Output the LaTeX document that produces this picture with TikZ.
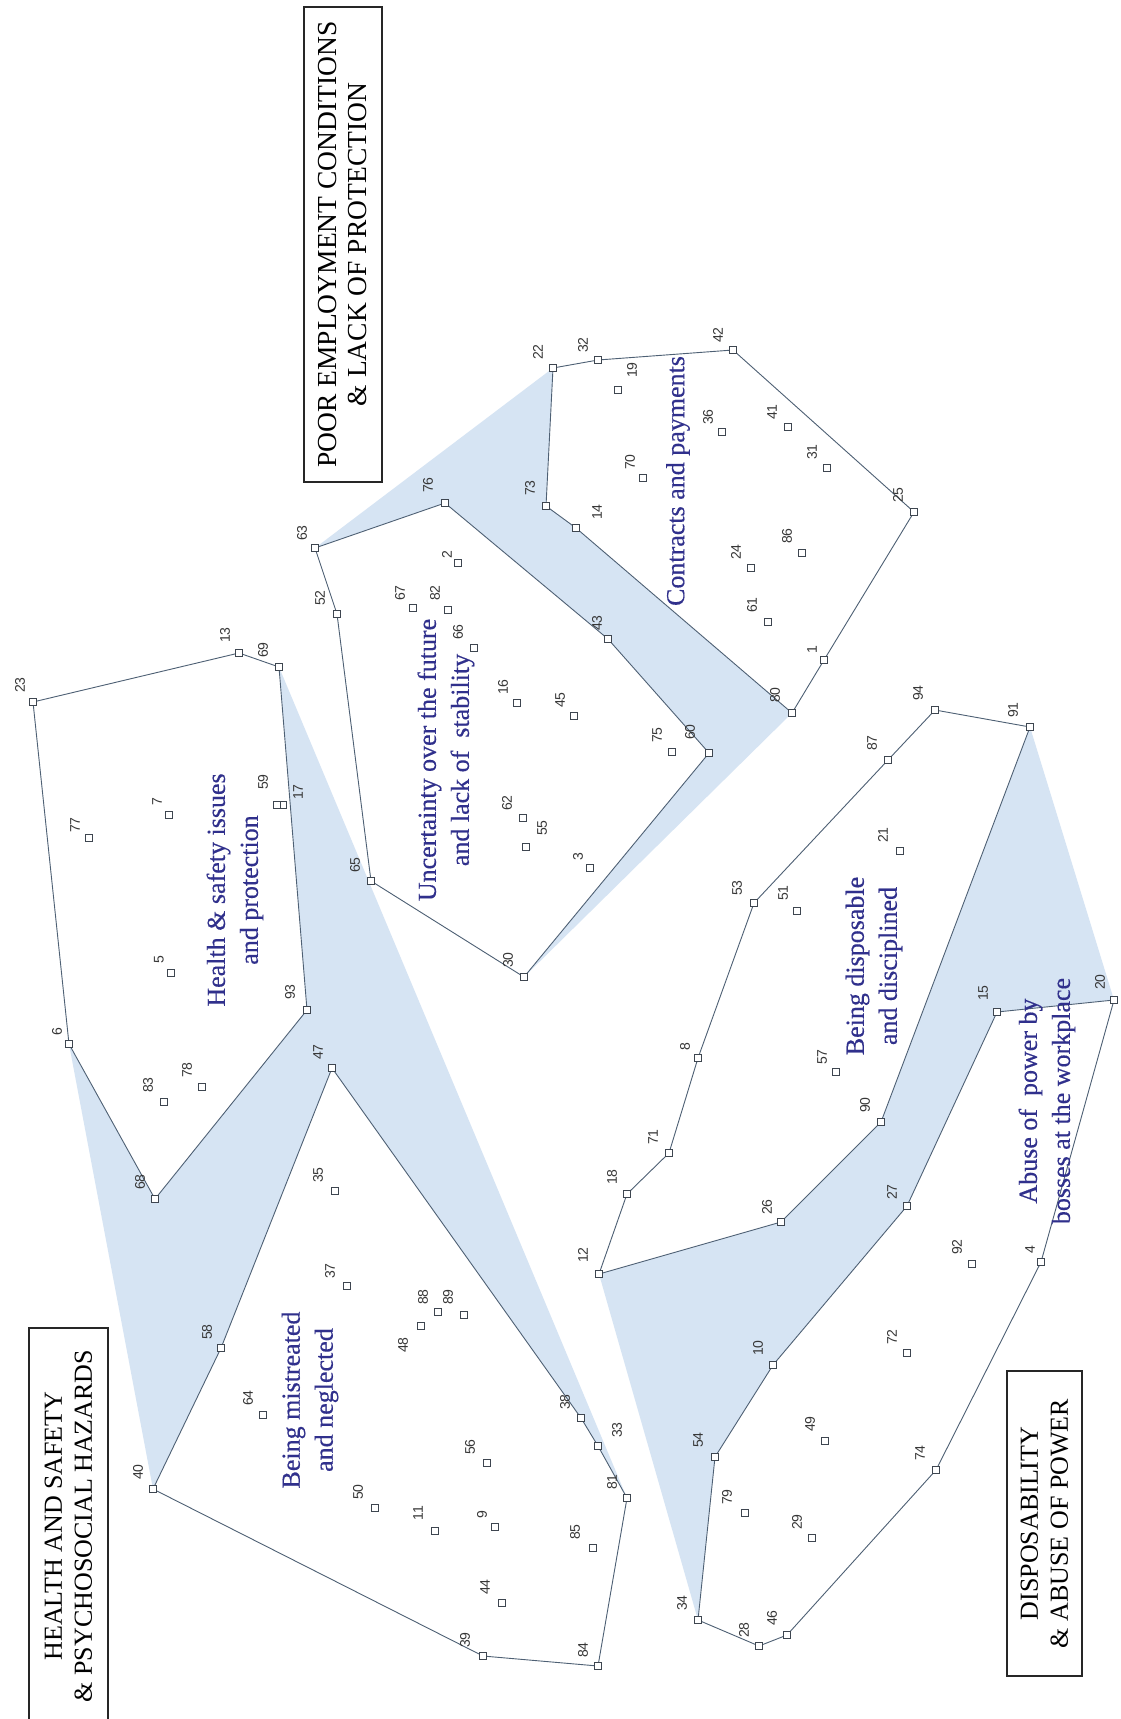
\documentclass[tikz,border=0pt]{standalone}
\usepackage{fontspec}
\setmainfont{Liberation Serif}
\newfontfamily\numfont{Liberation Sans}
\newfontfamily\catfont[FakeBold=0.4]{Liberation Serif}
\definecolor{hullblue}{RGB}{214,228,243}
\definecolor{edgecol}{RGB}{78,96,116}
\definecolor{markcol}{RGB}{62,70,80}
\definecolor{numcol}{RGB}{55,55,55}
\definecolor{catblue}{RGB}{48,48,140}
\begin{document}
\begin{tikzpicture}[x=1pt,y=-1pt,
  mk/.style={rectangle,draw=markcol,fill=white,line width=1pt,minimum size=7.5pt,inner sep=0pt,outer sep=0pt},
  num/.style={font=\numfont\fontsize{14}{14}\selectfont,text=numcol,rotate=90,inner sep=0pt},
  clusteredge/.style={draw=edgecol,line width=0.9pt,line join=round},
  cat/.style={font=\catfont\fontsize{26}{33}\selectfont,text=catblue,rotate=90,align=center,inner sep=0pt},
  titlebox/.style={draw=black!85,line width=1.2pt,rotate=90,align=center,inner sep=0pt,
    font=\fontsize{26}{30}\selectfont}]
% page
\useasboundingbox (0,0) rectangle (1120,1719);
\fill[white] (0,0) rectangle (1120,1719);

% statement points: number / x / y / label x / label y
\def\pts{1/824/660/812/650, 2/458/563/447/555, 3/590/868/578/857, 4/1041/1262/1030/1250,
 5/171/973/159/960, 6/69/1044/57/1032, 7/169/815/157/802, 8/698/1058/685/1047,
 9/495/1527/482/1515, 10/773/1365/758/1348, 11/435/1531/418/1513, 12/599/1274/583/1255,
 13/239/653/225/635, 14/576/528/597/512, 15/997/1012/983/993, 16/517/703/503/687,
 17/283/805/298/792, 18/627/1194/612/1177, 19/618/390/632/370, 20/1114/1000/1100/982,
 21/900/851/883/835, 22/553/368/538/352, 23/33/702/20/685, 24/751/568/736/552,
 25/914/512/898/495, 26/781/1222/767/1207, 27/907/1206/892/1192, 28/759/1646/744/1630,
 29/812/1538/797/1522, 30/524/977/508/960, 31/827/468/812/452, 32/598/360/583/345,
 33/598/1446/617/1430, 34/698/1620/682/1603, 35/335/1191/318/1175, 36/722/432/708/417,
 37/347/1286/330/1271, 38/581/1418/565/1402, 39/483/1656/465/1640, 40/153/1489/138/1472,
 41/788/427/772/412, 42/733/350/718/335, 43/608/639/597/623, 44/502/1603/485/1587,
 45/574/716/560/700, 46/787/1635/772/1618, 47/332/1068/318/1052, 48/421/1326/403/1345,
 49/825/1441/810/1424, 50/375/1508/358/1492, 51/797/911/783/893, 52/337/614/320/598,
 53/754/903/737/888, 54/715/1457/698/1440, 55/526/847/542/828, 56/487/1463/470/1447,
 57/836/1072/822/1057, 58/221/1348/207/1332, 59/277/805/263/782, 60/709/753/690/732,
 61/768/622/752/605, 62/523/818/507/803, 63/315/548/302/533, 64/263/1415/248/1398,
 65/371/881/355/865, 66/474/648/458/632, 67/413/608/400/593, 68/155/1199/140/1182,
 69/279/667/263/650, 70/643/478/630/462, 71/669/1153/653/1137, 72/907/1353/892/1337,
 73/546/506/530/488, 74/936/1470/920/1453, 75/672/752/657/735, 76/445/503/428/485,
 77/89/838/75/825, 78/202/1087/187/1070, 79/745/1513/727/1497, 80/792/713/775/695,
 81/627/1498/612/1482, 82/448/610/435/593, 83/164/1102/148/1085, 84/598/1666/583/1650,
 85/593/1548/575/1532, 86/802/553/787/536, 87/888/760/872/743, 88/438/1312/423/1297,
 89/464/1315/448/1297, 90/881/1122/865/1105, 91/1030/727/1013/710, 92/972/1264/957/1247,
 93/307/1010/290/992, 94/935/710/918/693}

\foreach \n/\x/\y/\lx/\ly in \pts {\coordinate (p\n) at (\x,\y);}

% shaded hulls of the three groups
\fill[hullblue] (p23) -- (p13) -- (p69) -- (p81) -- (p84) -- (p39) -- (p40) -- (p6) -- cycle;
\fill[hullblue] (p63) -- (p22) -- (p32) -- (p42) -- (p25) -- (p1) -- (p80) -- (p30) -- (p65) -- (p52) -- cycle;
\fill[hullblue] (p12) -- (p18) -- (p71) -- (p8) -- (p53) -- (p87) -- (p94) -- (p91) -- (p20) -- (p4)
  -- (p74) -- (p46) -- (p28) -- (p34) -- cycle;

% clusters
\filldraw[clusteredge,fill=white] (p23) -- (p13) -- (p69) -- (p93) -- (p68) -- (p6) -- cycle;
\filldraw[clusteredge,fill=white] (p47) -- (p38) -- (p33) -- (p81) -- (p84) -- (p39) -- (p40) -- (p58) -- cycle;
\filldraw[clusteredge,fill=white] (p63) -- (p76) -- (p43) -- (p60) -- (p30) -- (p65) -- (p52) -- cycle;
\filldraw[clusteredge,fill=white] (p22) -- (p32) -- (p42) -- (p25) -- (p1) -- (p80) -- (p14) -- (p73) -- cycle;
\filldraw[clusteredge,fill=white] (p12) -- (p18) -- (p71) -- (p8) -- (p53) -- (p87) -- (p94) -- (p91)
  -- (p90) -- (p26) -- cycle;
\filldraw[clusteredge,fill=white] (p15) -- (p20) -- (p4) -- (p74) -- (p46) -- (p28) -- (p34) -- (p54)
  -- (p10) -- (p27) -- cycle;

% markers and numbers
\foreach \n/\x/\y/\lx/\ly in \pts {
  \node[mk] (m\n) at (p\n) {};
  \node[num] (l\n) at (\lx,\ly) {\n};
}

% cluster names
\node[cat] (catA) at (235,890) {Health \& safety issues\\and protection};
\node[cat] (catB) at (310,1400) {Being mistreated\\and neglected};
\node[cat] (catC) at (446,760) {Uncertainty over the future\\and lack of\ \ stability};
\node[cat] (catD) at (678,481) {Contracts and payments};
\node[cat] (catE) at (874,966) {Being disposable\\and disciplined};
\node[cat] (catF) at (1047,1101) {Abuse of\ \ power by\\bosses at the workplace};

% group titles
\node[titlebox,minimum width=475pt,minimum height=78pt,font=\fontsize{27.5}{30}\selectfont] (tPO) at (343,244.5)
  {POOR EMPLOYMENT CONDITIONS\\\& LACK OF PROTECTION};
\node[titlebox,minimum width=396pt,minimum height=79pt] (tHS) at (68.5,1526)
  {HEALTH AND SAFETY\\\& PSYCHOSOCIAL HAZARDS};
\node[titlebox,minimum width=305pt,minimum height=75pt] (tDA) at (1044.5,1523.5)
  {DISPOSABILITY\\\& ABUSE OF POWER};
\end{tikzpicture}
\end{document}
